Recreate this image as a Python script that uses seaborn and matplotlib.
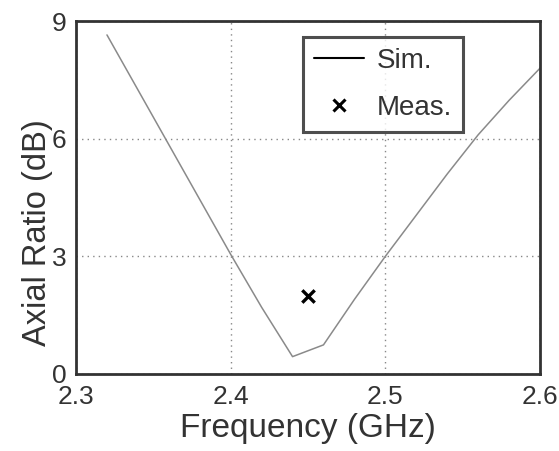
import numpy as np
import pandas as pd
import matplotlib
matplotlib.use("Agg")
import matplotlib.pyplot as plt
import seaborn as sns
from matplotlib.lines import Line2D

# simulated axial ratio
sim_freq = [2.32, 2.34, 2.36, 2.38, 2.40, 2.42, 2.44, 2.46, 2.48, 2.50, 2.52, 2.54, 2.56, 2.58, 2.60]
sim_ar = [8.65, 7.25, 5.85, 4.45, 3.05, 1.70, 0.44, 0.74, 1.90, 3.00, 4.05, 5.10, 6.10, 6.98, 7.80]

# measured point
meas_freq = [2.45]
meas_ar = [1.98]

sns.set_style("white")
plt.rcParams["font.family"] = ["Liberation Sans", "DejaVu Sans"]

sim = pd.DataFrame({"freq": sim_freq, "ar": sim_ar})
meas = pd.DataFrame({"freq": meas_freq, "ar": meas_ar})

fig = plt.figure(figsize=(5.59, 4.51), dpi=100)
ax = fig.add_axes([0.136, 0.171, 0.830, 0.782])

sns.lineplot(data=sim, x="freq", y="ar", ax=ax, color="#8a8a8a", linewidth=1.1)
sns.scatterplot(data=meas, x="freq", y="ar", ax=ax, marker="x", color="black",
                s=80, linewidth=2.4)

ax.set_xlim(2.3, 2.6)
ax.set_ylim(0, 9)
ax.set_xticks([2.3, 2.4, 2.5, 2.6])
ax.set_xticklabels(["2.3", "2.4", "2.5", "2.6"])
ax.set_yticks([0, 3, 6, 9])
ax.tick_params(direction="in", length=4, width=1, labelsize=19, colors="#333333")
ax.tick_params(axis="x", pad=8)
ax.tick_params(axis="y", pad=7)
ax.grid(True, which="major", linestyle=(0, (1, 3)), color="#888888", linewidth=1)
for s in ax.spines.values():
    s.set_color("#333333")
    s.set_linewidth(2)
    s.set_visible(True)

ax.set_xlabel("Frequency (GHz)", fontsize=24, color="#333333", labelpad=3)
ax.set_ylabel("Axial Ratio (dB)", fontsize=23.5, color="#333333")
ax.yaxis.set_label_coords(-0.05, 0.40)

handles = [Line2D([], [], color="black", linewidth=1.5),
           Line2D([], [], color="black", marker="x", linestyle="none",
                  markersize=8, markeredgewidth=2.2)]
leg = ax.legend(handles, ["Sim.", "Meas."], loc="upper right",
                bbox_to_anchor=(0.834, 0.955), fontsize=20, frameon=True,
                fancybox=False, handlelength=1.8, handletextpad=0.45,
                borderpad=0.4, labelspacing=0.75, borderaxespad=0)
leg.get_frame().set_edgecolor("#222222")
leg.get_frame().set_linewidth(2.2)
for t in leg.get_texts():
    t.set_color("#333333")

fig.savefig("out.png", dpi=100)
